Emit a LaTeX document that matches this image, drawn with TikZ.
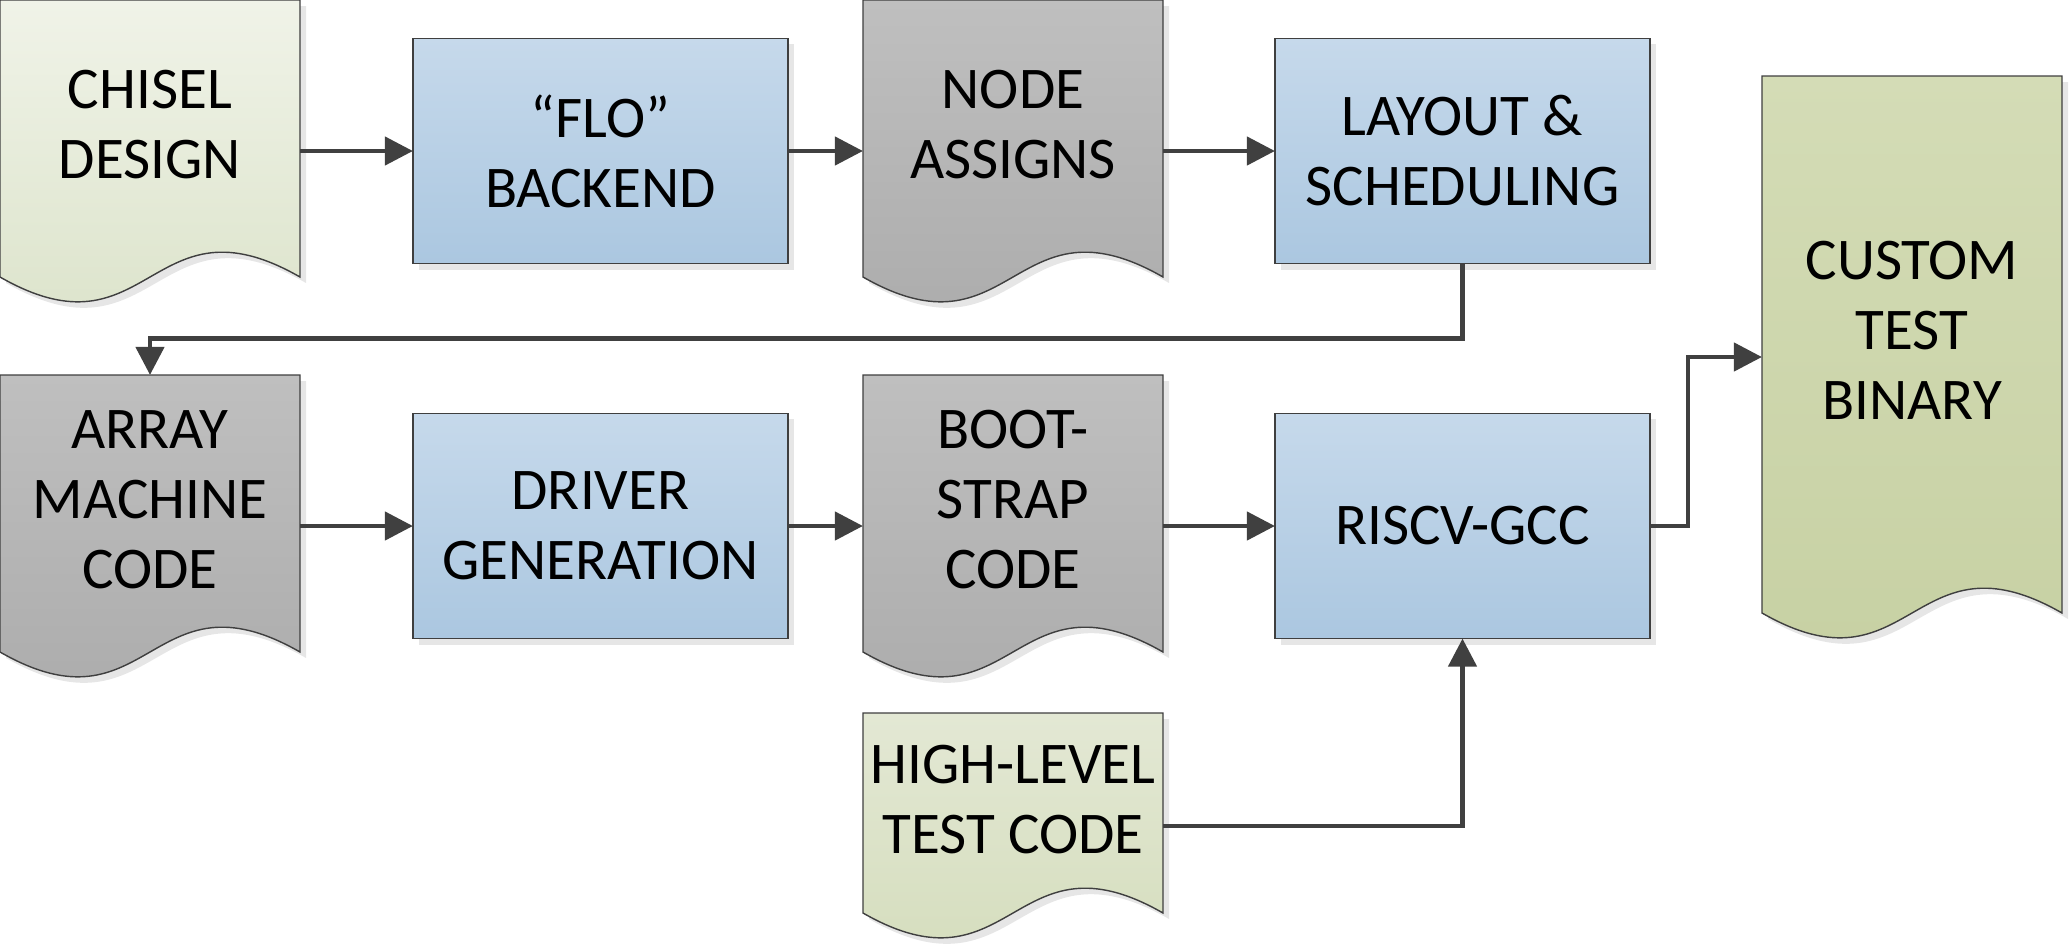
\documentclass[tikz,border=0pt]{standalone}
\usepackage{fontspec}
\setmainfont{Carlito}
\usetikzlibrary{arrows.meta,shadows}
\definecolor{outc}{HTML}{3F3F3F}
\definecolor{linec}{HTML}{404040}
\definecolor{shadowc}{HTML}{E6E6E6}
\definecolor{bluetop}{HTML}{C6D9EB}
\definecolor{bluebot}{HTML}{ABC7E0}
\definecolor{graytop}{HTML}{BFBFBF}
\definecolor{graybot}{HTML}{AAAAAA}
\definecolor{lgtop}{HTML}{F0F3E8}
\definecolor{lgbot}{HTML}{DAE2C8}
\definecolor{hltop}{HTML}{E3E8D4}
\definecolor{hlbot}{HTML}{D3DCBA}
\definecolor{cutop}{HTML}{D4DCB6}
\definecolor{cubot}{HTML}{C6D0A2}
\newcommand{\DocShape}[5]{%
  \fill[shadowc] (#1+6,#2+6) -- (#1+306,#2+6) -- (#1+306,#2+#3+6) .. controls (#1+156,#2+#3-80) and (#1+156,#2+#3+92) .. (#1+6,#2+#3+6) -- cycle;
  \shade[top color=#4, bottom color=#5, draw=outc, line width=0.4pt] (#1,#2) -- (#1+300,#2) -- (#1+300,#2+#3) .. controls (#1+150,#2+#3-86) and (#1+150,#2+#3+86) .. (#1,#2+#3) -- cycle;
}
\begin{document}
\begin{tikzpicture}[x=0.01cm,y=-0.01cm,
  conn/.style={draw=linec, line width=1.3pt, -{Triangle[length=8pt,width=8pt]}},
  area/.style={rectangle, inner sep=0pt, outer sep=0pt, minimum width=3cm},
  lbl/.style={font=\fontsize{16.8}{19.9}\selectfont, align=center, inner sep=0pt},
  box/.style={rectangle, draw=outc, line width=0.4pt, top color=bluetop, bottom color=bluebot,
    minimum width=3.75cm, minimum height=2.25cm, inner sep=0pt, outer sep=0pt,
    font=\fontsize{16.8}{19.9}\selectfont, align=center,
    drop shadow={shadow xshift=1.7pt, shadow yshift=-1.7pt, fill=shadowc, opacity=1}}]
\useasboundingbox (0,0) rectangle (2070,945);

% row 1
\DocShape{0}{0}{277}{lgtop}{lgbot}
\node[area, minimum height=3.02cm] (chisel) at (150,151) {};
\node[lbl] (chiselT) at (150,125) {CHISEL\\DESIGN};

\node[box] (flo) at (600.5,151) {“FLO”\\BACKEND};

\DocShape{863}{0}{277}{graytop}{graybot}
\node[area, minimum height=3.02cm] (nodeA) at (1013,151) {};
\node[lbl] (nodeAT) at (1013,125) {NODE\\ASSIGNS};

\node[box] (layout) at (1462.5,151) {LAYOUT \&\\SCHEDULING};

% row 2
\DocShape{0}{375}{277}{graytop}{graybot}
\node[area, minimum height=3.02cm] (array) at (150,526) {};
\node[lbl] (arrayT) at (150,500) {ARRAY\\MACHINE\\CODE};

\node[box] (driver) at (600.5,526) {DRIVER\\GENERATION};

\DocShape{863}{375}{277}{graytop}{graybot}
\node[area, minimum height=3.02cm] (boot) at (1013,526) {};
\node[lbl] (bootT) at (1013,500) {BOOT-\\STRAP\\CODE};

\node[box] (riscv) at (1462.5,526) {RISCV-GCC};

% row 3
\DocShape{863}{713}{200}{hltop}{hlbot}
\node[area, minimum height=2.26cm] (high) at (1013,826) {};
\node[lbl] (highT) at (1013,800) {HIGH-LEVEL\\TEST CODE};

% output
\DocShape{1762}{76}{537}{cutop}{cubot}
\node[area, minimum height=5.62cm] (custom) at (1912,357) {};
\node[lbl] (customT) at (1912,330.5) {CUSTOM\\TEST\\BINARY};

% connectors
\draw[conn] (chisel.east) -- (flo.west);
\draw[conn] (flo.east) -- (nodeA.west);
\draw[conn] (nodeA.east) -- (layout.west);
\draw[conn] (layout.south) -- ++(0,75) -| (array.north);
\draw[conn] (array.east) -- (driver.west);
\draw[conn] (driver.east) -- (boot.west);
\draw[conn] (boot.east) -- (riscv.west);
\coordinate (rbend) at (1688,526);
\draw[conn] (riscv.east) -- (rbend) |- (custom.west);
\draw[conn] (high.east) -| (riscv.south);
\end{tikzpicture}
\end{document}
